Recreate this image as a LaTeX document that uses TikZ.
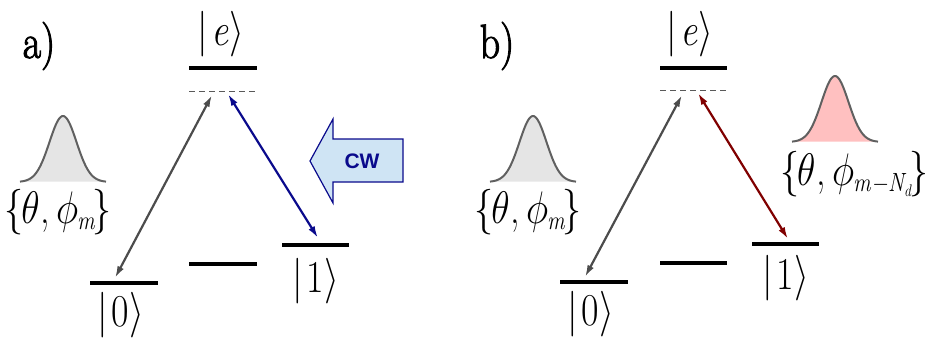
\RequirePackage{fix-cm}
\documentclass[tikz,border=0pt]{standalone}
\usepackage{fontspec}
\newfontfamily\panelfont{Latin Modern Roman}[FakeBold=2.2]
\newfontfamily\cwfont{Liberation Sans}
\usetikzlibrary{arrows.meta}
\definecolor{cwblue}{RGB}{10,10,140}
\definecolor{cwfill}{RGB}{207,228,244}
\definecolor{darkred}{RGB}{128,0,0}
\definecolor{pinkfill}{RGB}{255,192,192}
\newcommand{\ketlab}[1]{|\kern3pt#1\kern1pt$\rangle$}
\newcommand{\phaselab}[1]{$\{$\kern-2pt$\theta$\kern1pt,\kern6pt$\phi$\kern-1pt\raisebox{-5pt}{\fontsize{22}{24}\selectfont\itshape #1}\kern-2pt$\}$}
\tikzset{
	level/.style={line width=4pt},
	virtual/.style={gray!70!black, line width=1pt, dash pattern=on 6pt off 4pt},
	transition/.style={{Latex[length=12pt,width=7pt]}-{Latex[length=12pt,width=7pt]}, line width=2.2pt},
	ket/.style={inner sep=0pt, font=\fontsize{38}{42}\selectfont, yscale=1.2},
	panel/.style={inner sep=0pt, font=\panelfont\fontsize{40}{44}\selectfont, yscale=1.2},
	pulse/.style={draw=gray!75!black, line width=2pt},
}

\begin{document}
\begin{tikzpicture}[x=1pt, y=-1pt]
	\useasboundingbox (0,0) rectangle (925,338);
	% Panel a:
	\node[panel] (pa) at (39,46) {a)};
	\draw[level] (189,68) -- (257,68);
	\draw[virtual] (189,91) -- (257,91);
	\draw[level] (90,283) -- (158,283);
	\draw[level] (189,264) -- (257,264);
	\draw[level] (282,245) -- (349,245);
	\node[ket] (ea) at (221,34) {\ketlab{\textit{e}}};
	\node[ket] (za) at (121,315) {\ketlab{0}};
	\node[ket] (oa) at (316,281) {\ketlab{1}};
	\coordinate (a0) at (115,278);
	\coordinate (ae0) at (212,95);
	\coordinate (ae1) at (228,94);
	\coordinate (a1) at (318,238);
	\draw[transition, gray!60!black] (a0) -- (ae0);
	\draw[transition, cwblue] (ae1) -- (a1);
	\fill[gray!20] plot[domain=-43:43, samples=60] ({63+\x},{182-66*exp(-(\x*\x)/364)}) -- cycle;
	\draw[pulse] plot[domain=-43:43, samples=60] ({63+\x},{182-66*exp(-(\x*\x)/364)});
	\node[ket] (pha) at (58,212) {\phaselab{m}};
	\draw[cwblue, fill=cwfill, line width=1.2pt, line join=miter] (310,161) -- (333,119) -- (333,139) -- (403,139) -- (403,182) -- (333,182) -- (333,203) -- cycle;
	\node[cwblue, font=\cwfont\bfseries\fontsize{21}{24}\selectfont] (cw) at (362,161) {CW};
	% Panel b:
	\node[panel] (pb) at (497,46) {b)};
	\draw[level] (660,68) -- (727,68);
	\draw[virtual] (660,90) -- (727,90);
	\draw[level] (560,282) -- (628,282);
	\draw[level] (660,263) -- (727,263);
	\draw[level] (752,244) -- (819,244);
	\node[ket] (eb) at (690,34) {\ketlab{\textit{e}}};
	\node[ket] (zb) at (591,314) {\ketlab{0}};
	\node[ket] (ob) at (786,278) {\ketlab{1}};
	\coordinate (b0) at (585,277);
	\coordinate (be0) at (682,95);
	\coordinate (be1) at (698,93);
	\coordinate (b1) at (788,239);
	\draw[transition, gray!60!black] (b0) -- (be0);
	\draw[transition, darkred] (be1) -- (b1);
	\fill[gray!20] plot[domain=-43:43, samples=60] ({533+\x},{182-66*exp(-(\x*\x)/364)}) -- cycle;
	\draw[pulse] plot[domain=-43:43, samples=60] ({533+\x},{182-66*exp(-(\x*\x)/364)});
	\node[ket] (phb) at (528,212) {\phaselab{m}};
	\fill[pinkfill] plot[domain=-43:43, samples=60] ({835+\x},{142-66*exp(-(\x*\x)/364)}) -- cycle;
	\draw[pulse] plot[domain=-43:43, samples=60] ({835+\x},{142-66*exp(-(\x*\x)/364)});
	\node[ket, anchor=west] (phd) at (780,174) {\phaselab{m\kern0.5pt−\kern0.5pt N\raisebox{-4pt}{\fontsize{14}{16}\selectfont d}}};
\end{tikzpicture}
\end{document}
